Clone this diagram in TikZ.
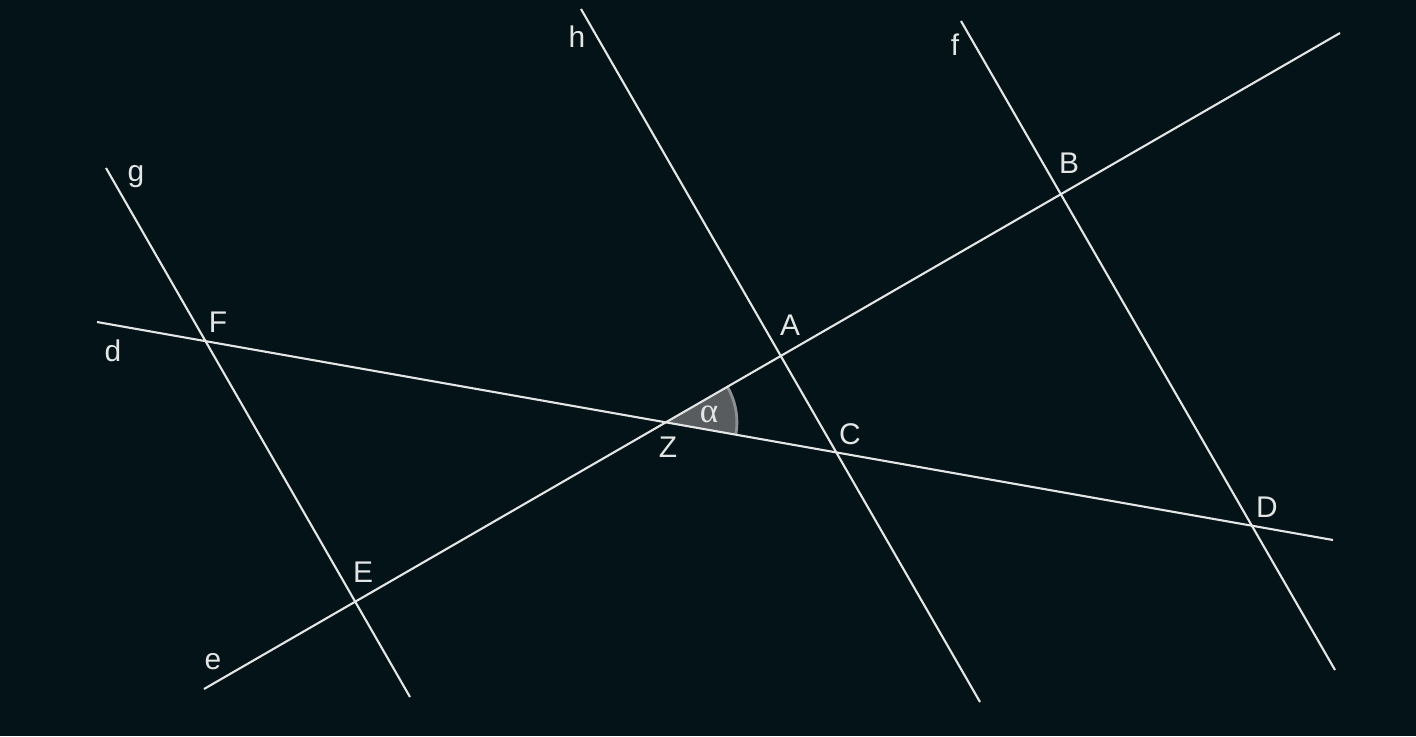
\documentclass[tikz,border=0pt]{standalone}
\usepackage{fontspec}
\setmainfont{Liberation Sans}
\newfontfamily\alphafont{Liberation Serif}
\usetikzlibrary{calc,angles}
\definecolor{bg}{RGB}{3,19,24}
\definecolor{ln}{RGB}{228,230,230}
\definecolor{wedge}{RGB}{88,92,94}
\definecolor{wedgeedge}{RGB}{140,144,146}
\tikzset{
  geoline/.style={draw=ln, line width=0.6pt},
  lbl/.style={text=ln, font=\fontsize{8.5}{9}\selectfont, inner sep=0pt}
}
\begin{document}
\begin{tikzpicture}[x=0.01cm,y=-0.01cm]
\fill[bg] (0,0) rectangle (1416,736);
\useasboundingbox (0,0) rectangle (1416,736);
% line end points
\coordinate (d1) at (97,322);  \coordinate (d2) at (1333,540);
\coordinate (e1) at (204,689); \coordinate (e2) at (1340,33);
\coordinate (g1) at (106,168); \coordinate (g2) at (410,697);
\coordinate (h1) at (581,9);   \coordinate (h2) at (980,702);
\coordinate (f1) at (961,21);  \coordinate (f2) at (1335,670);
% intersections
\coordinate (Z) at (intersection of d1--d2 and e1--e2);
\coordinate (F) at (intersection of d1--d2 and g1--g2);
\coordinate (E) at (intersection of e1--e2 and g1--g2);
\coordinate (A) at (intersection of e1--e2 and h1--h2);
\coordinate (C) at (intersection of d1--d2 and h1--h2);
\coordinate (B) at (intersection of e1--e2 and f1--f2);
\coordinate (D) at (intersection of d1--d2 and f1--f2);
% angle
\pic[fill=wedge, draw=wedgeedge, line width=0.8pt, angle radius=0.71cm] {angle=C--Z--A};
% lines
\draw[geoline] (d1) -- (d2);
\draw[geoline] (e1) -- (e2);
\draw[geoline] (g1) -- (g2);
\draw[geoline] (h1) -- (h2);
\draw[geoline] (f1) -- (f2);
% labels
\node[lbl] (lg) at (136,177) {g};
\node[lbl] (lF) at (218,322) {F};
\node[lbl] (ld) at (113,351) {d};
\node[lbl] (lh) at (577,37) {h};
\node[lbl] (lf) at (955,45) {f};
\node[lbl] (lB) at (1069,163) {B};
\node[lbl] (lA) at (790,325) {A};
\node[lbl] (lC) at (850,434) {C};
\node[lbl] (lZ) at (668,447) {Z};
\node[lbl] (lD) at (1267,507) {D};
\node[lbl] (lE) at (363,572) {E};
\node[lbl] (le) at (213,662) {e};
\node[text=ln, inner sep=0pt, font=\alphafont\fontsize{10}{10}\selectfont] (lal) at (709,414) {α};
\end{tikzpicture}
\end{document}
